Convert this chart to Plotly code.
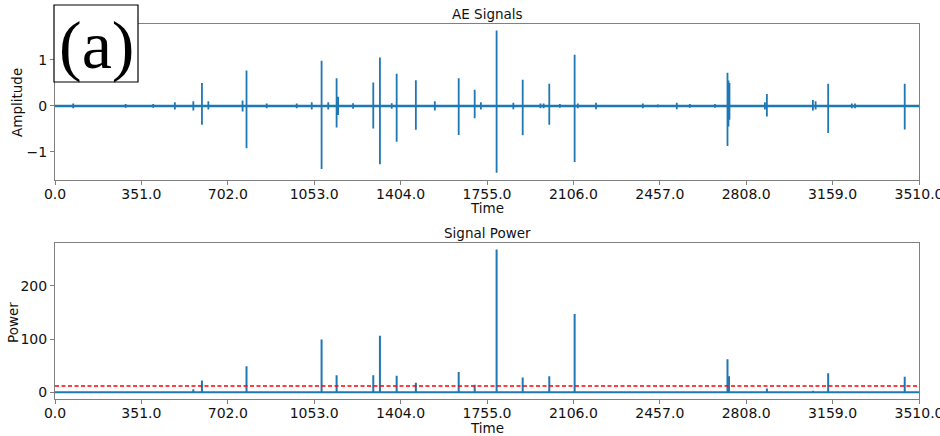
import plotly.graph_objects as go

# ---------------- data ----------------
# AE signal bursts: time, positive peak, negative peak
ae_time = [74, 287, 399, 487, 562, 597, 623, 762, 778, 860, 982, 1043, 1083, 1110,
           1144, 1150, 1211, 1293, 1320, 1368, 1388, 1466, 1543, 1640, 1705, 1730,
           1794, 1862, 1900, 1972, 1985, 2008, 2051, 2111, 2124, 2198, 2388, 2449,
           2526, 2579, 2681, 2732, 2736, 2740, 2884, 2892, 3079, 3090, 3141, 3237,
           3250, 3452]
ae_pos = [0.05, 0.04, 0.04, 0.08, 0.10, 0.50, 0.10, 0.12, 0.77, 0.05, 0.05, 0.08, 0.98, 0.08,
          0.60, 0.20, 0.06, 0.51, 1.05, 0.06, 0.70, 0.56, 0.10, 0.60, 0.35, 0.08,
          1.64, 0.07, 0.57, 0.05, 0.05, 0.48, 0.04, 1.11, 0.05, 0.07, 0.05, 0.03,
          0.07, 0.04, 0.04, 0.72, 0.55, 0.50, 0.08, 0.26, 0.13, 0.10, 0.48, 0.05,
          0.05, 0.48]
ae_neg = [-0.05, -0.04, -0.04, -0.08, -0.10, -0.41, -0.08, -0.12, -0.92, -0.05, -0.05, -0.08, -1.37, -0.08,
          -0.47, -0.20, -0.06, -0.49, -1.27, -0.06, -0.78, -0.52, -0.10, -0.63, -0.27, -0.08,
          -1.45, -0.07, -0.64, -0.05, -0.05, -0.41, -0.04, -1.22, -0.05, -0.07, -0.05, -0.03,
          -0.07, -0.04, -0.04, -0.87, -0.45, -0.30, -0.08, -0.23, -0.10, -0.08, -0.59, -0.05,
          -0.05, -0.51]

# Signal power peaks: time, power
pw_time = [491, 562, 597, 778, 1083, 1144, 1293, 1320, 1388, 1466, 1640, 1705, 1794,
           1900, 2008, 2111, 2732, 2738, 2892, 3079, 3141, 3452]
pw_val = [1, 5.6, 22, 49, 99, 32, 32, 106, 31, 18, 38, 14, 268,
          28, 30, 147, 62, 30, 7, 3, 36, 29]
threshold = 12

t_start, t_end = 0, 3510
x_ticks = [0, 351, 702, 1053, 1404, 1755, 2106, 2457, 2808, 3159, 3510]
x_ticktext = ["0.0", "351.0", "702.0", "1053.0", "1404.0", "1755.0", "2106.0",
              "2457.0", "2808.0", "3159.0", "3510.0"]
amp_ticks = [-1, 0, 1]
pow_ticks = [0, 100, 200]

# ---------------- build traces ----------------
W, H = 940, 436
BLUE = "#1f77b4"

sx, sy = [t_start], [0]
for t, p, n in zip(ae_time, ae_pos, ae_neg):
    sx += [t, t, t, t]
    sy += [0, p, n, 0]
sx.append(t_end); sy.append(0)

px_, py_ = [t_start], [0]
for t, v in zip(pw_time, pw_val):
    px_ += [t, t, t]
    py_ += [0, v, 0]
px_.append(t_end); py_.append(0)

fig = go.Figure()
fig.add_trace(go.Scatter(x=sx, y=sy, mode="lines", line=dict(color=BLUE, width=1.8),
                         xaxis="x", yaxis="y", showlegend=False, hoverinfo="skip"))
fig.add_trace(go.Scatter(x=[t_start, t_end], y=[0, 0], mode="lines",
                         line=dict(color=BLUE, width=2.5),
                         xaxis="x", yaxis="y", showlegend=False, hoverinfo="skip"))
fig.add_trace(go.Scatter(x=px_, y=py_, mode="lines", line=dict(color=BLUE, width=2),
                         xaxis="x2", yaxis="y2", showlegend=False, hoverinfo="skip"))
fig.add_trace(go.Scatter(x=[t_start, t_end], y=[threshold, threshold], mode="lines",
                         line=dict(color="red", width=1.5, dash="4px,2.5px"),
                         xaxis="x2", yaxis="y2", showlegend=False, hoverinfo="skip"))

FONT = "DejaVu Sans"
SPINE = "#808080"

def pxx(x):
    return x / W

def pxy(y):
    return 1 - y / H

common_x = dict(range=[t_start, t_end], tickvals=x_ticks, ticktext=x_ticktext,
                showgrid=False, zeroline=False, showline=True, linecolor=SPINE,
                linewidth=1, mirror=True, ticks="outside", ticklen=4, tickcolor=SPINE,
                ticklabeloverflow="allow", ticklabelstandoff=-3, automargin=False,
                tickfont=dict(family=FONT, size=14, color="#111"),
                domain=[pxx(55), pxx(919)])
common_y = dict(showgrid=False, zeroline=False, showline=True, linecolor=SPINE,
                linewidth=1, mirror=True, ticks="outside", ticklen=4, tickcolor=SPINE,
                automargin=False,
                tickfont=dict(family=FONT, size=14, color="#111"))

fig.update_layout(
    width=W, height=H, margin=dict(l=0, r=0, t=0, b=0, autoexpand=False),
    paper_bgcolor="white", plot_bgcolor="white",
    xaxis=dict(**common_x, anchor="y"),
    yaxis=dict(**common_y, range=[-1.61, 1.78], tickvals=amp_ticks,
               domain=[pxy(180), pxy(24)], anchor="x"),
    xaxis2=dict(**common_x, anchor="y2"),
    yaxis2=dict(**common_y, range=[-12.5, 280], tickvals=pow_ticks,
                domain=[pxy(399), pxy(243)], anchor="x2"),
    showlegend=False,
)

def ann(text, x, y, size=13.5, angle=0, family=FONT):
    fig.add_annotation(text=text, x=pxx(x), y=pxy(y), xref="paper", yref="paper",
                       showarrow=False, xanchor="center", yanchor="middle",
                       textangle=angle, font=dict(family=family, size=size, color="#111"))

ann("AE Signals", 487, 14)
ann("Signal Power", 487, 233)
ann("Time", 487, 208)
ann("Time", 487, 428)
ann("Amplitude", 17, 103, angle=-90)
ann("Power", 13, 323, angle=-90)

# (a) panel label box
fig.add_shape(type="rect", xref="paper", yref="paper",
              x0=pxx(54), x1=pxx(138), y0=pxy(82), y1=pxy(5),
              fillcolor="white", line=dict(color="black", width=1.2), layer="above")
fig.add_annotation(text="(a)", x=pxx(96), y=pxy(45), xref="paper", yref="paper",
                   showarrow=False, xanchor="center", yanchor="middle",
                   font=dict(family="Liberation Serif", size=68, color="black"))

fig.write_html("out.html")
